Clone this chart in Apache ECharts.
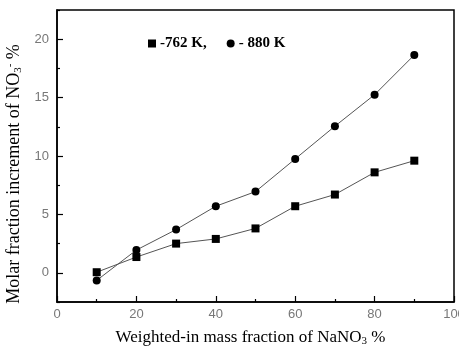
<!DOCTYPE html>
<html>
<head>
<meta charset="utf-8">
<script src="https://cdn.jsdelivr.net/npm/echarts@6/dist/echarts.min.js"></script>
<style>
  html, body { margin: 0; padding: 0; background: #fff; }
  #chart { width: 459px; height: 347px; }
</style>
</head>
<body>
<div id="chart"></div>
<script>
// weighted-in mass fraction of NaNO3, %
const massFraction = [10, 20, 30, 40, 50, 60, 70, 80, 90];
// molar fraction increment of NO3-, %
const series762 = [0.05, 1.35, 2.5, 2.9, 3.8, 5.7, 6.7, 8.6, 9.6];
const series880 = [-0.65, 1.95, 3.7, 5.7, 6.95, 9.75, 12.55, 15.25, 18.65];

const xTicks = [0, 20, 40, 60, 80, 100];
const yTicks = [0, 5, 10, 15, 20];
const yMinorTicks = [-2.5, 2.5, 7.5, 12.5, 17.5, 22.5];

const serif = '"Liberation Serif", "Times New Roman", serif';
const sans = '"Liberation Sans", Arial, sans-serif';

const chart = echarts.init(document.getElementById('chart'));

const pairs = arr => massFraction.map((x, i) => [x, arr[i]]);

const option = {
  animation: false,
  backgroundColor: '#fff',
  grid: {
    left: 57,
    right: 5,
    top: 10,
    bottom: 45,
    outerBoundsMode: 'none',
    containLabel: false,
    show: true,
    borderColor: '#000',
    borderWidth: 1.5
  },
  legend: {
    left: 148,
    top: 36,
    padding: 0,
    itemWidth: 8,
    itemHeight: 8,
    itemGap: 20,
    selectedMode: false,
    textStyle: {
      fontFamily: serif,
      fontWeight: 'bold',
      fontSize: 15,
      color: '#000',
      padding: [0, 0, 0, -1]
    },
    data: [
      { name: '-762 K,', icon: 'rect' },
      { name: '- 880 K', icon: 'circle' }
    ]
  },
  xAxis: {
    type: 'value',
    min: 0,
    max: 100,
    interval: 20,
    name: 'Weighted-in mass fraction of NaNO{sub|3} %',
    nameLocation: 'middle',
    nameGap: 26,
    nameTextStyle: {
      fontFamily: serif,
      fontSize: 17,
      color: '#000',
      padding: [0, 10, 0, 0],
      rich: {
        sub: { fontFamily: serif, fontSize: 11, color: '#000', padding: [8, 0, 0, 0] }
      }
    },
    axisLine: { onZero: false, lineStyle: { color: '#000', width: 1.5 } },
    axisTick: { inside: true, length: 6, lineStyle: { color: '#000', width: 1.2 } },
    minorTick: { show: true, splitNumber: 2, length: 3, lineStyle: { color: '#000', width: 1.2 } },
    axisLabel: {
      customValues: xTicks,
      color: '#777',
      fontFamily: sans,
      fontSize: 13,
      margin: 6
    },
    splitLine: { show: false }
  },
  yAxis: [{
    type: 'value',
    min: -2.5,
    max: 22.5,
    name: 'Molar fraction increment of NO{sub|3}{sup|-} %',
    nameLocation: 'middle',
    nameGap: 30,
    nameTextStyle: {
      fontFamily: serif,
      fontSize: 18,
      color: '#000',
      padding: [0, 36, 0, 0],
      rich: {
        sub: { fontFamily: serif, fontSize: 11, color: '#000', padding: [8, 0, 0, 0] },
        sup: { fontFamily: serif, fontSize: 11, color: '#000', padding: [0, 0, 8, 0] }
      }
    },
    axisLine: { show: true, onZero: false, lineStyle: { color: '#000', width: 1.5 } },
    axisTick: { customValues: yTicks, inside: true, length: 6, lineStyle: { color: '#000', width: 1.2 } },
    axisLabel: {
      customValues: yTicks,
      color: '#777',
      fontFamily: sans,
      fontSize: 13,
      margin: 8
    },
    splitLine: { show: false }
  }, {
    type: 'value',
    position: 'left',
    min: -2.5,
    max: 22.5,
    axisLine: { show: false },
    axisTick: { customValues: yMinorTicks, inside: true, length: 3, lineStyle: { color: '#000', width: 1.2 } },
    axisLabel: { show: false },
    splitLine: { show: false }
  }],
  series: [{
    type: 'line',
    name: '-762 K,',
    data: pairs(series762),
    symbol: 'rect',
    symbolSize: 8,
    itemStyle: { color: '#000' },
    lineStyle: { color: '#555', width: 1 }
  }, {
    type: 'line',
    name: '- 880 K',
    data: pairs(series880),
    symbol: 'circle',
    symbolSize: 8,
    itemStyle: { color: '#000' },
    lineStyle: { color: '#555', width: 1 }
  }]
};

chart.setOption(option);
</script>
</body>
</html>
